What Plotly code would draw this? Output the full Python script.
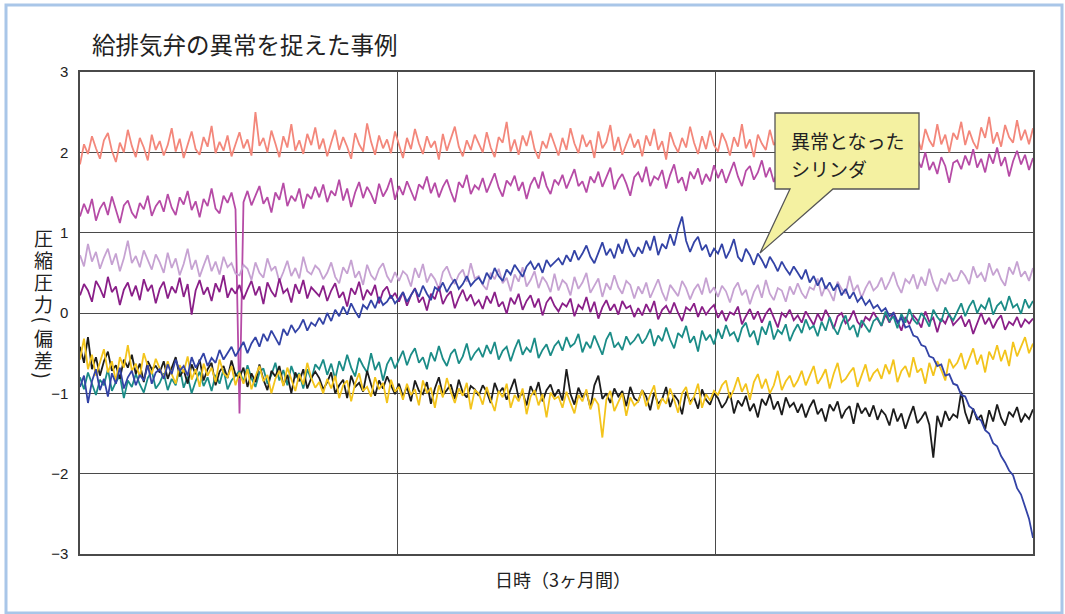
import plotly.graph_objects as go

# Compression pressure deviation per cylinder, sampled evenly over three months
salmon = [
    1.85, 2.10, 1.98, 2.20, 2.05, 1.92, 2.15, 2.24, 2.02, 1.88, 2.12, 2.00, 2.28, 2.08, 1.94, 2.18, 2.06, 1.90, 2.22, 2.03,
    2.14, 1.96, 2.09, 2.30, 2.01, 2.17, 1.93, 2.11, 2.26, 2.04, 1.97, 2.19, 2.07, 2.33, 1.99, 2.13, 2.02, 2.21, 1.95, 2.10,
    2.25, 2.05, 2.16, 1.96, 2.50, 2.08, 2.18, 2.00, 2.27, 2.11, 1.94, 2.20, 2.06, 2.35, 2.02, 2.15, 1.98, 2.23, 2.09, 2.31,
    2.04, 2.17, 1.95, 2.12, 2.28, 2.03, 2.19, 2.07, 1.92, 2.24, 2.10, 2.01, 2.36, 2.13, 1.97, 2.21, 2.05, 2.16, 1.99, 2.26,
    2.08, 1.93, 2.18, 2.04, 2.29, 2.11, 1.98, 2.20, 2.06, 2.14, 1.91, 2.23, 2.02, 2.17, 2.32, 2.07, 1.95, 2.15, 2.03, 2.22,
    2.10, 2.00, 2.25, 2.06, 1.94, 2.19, 2.12, 2.38, 2.01, 2.16, 1.97, 2.21, 2.08, 2.27, 2.04, 1.92, 2.14, 2.05, 2.24, 2.09,
    1.96, 2.18, 2.03, 2.30, 2.11, 1.99, 2.22, 2.07, 2.15, 1.93, 2.26, 2.05, 2.13, 2.34, 2.02, 2.19, 1.97, 2.10, 2.23, 2.06,
    2.16, 1.95, 2.21, 2.08, 2.29, 2.03, 2.14, 1.91, 2.25, 2.10, 2.00, 2.18, 2.06, 2.32, 2.12, 1.98, 2.20, 2.04, 2.27, 2.09,
    2.01, 2.24, 2.13, 1.96, 2.19, 2.07, 2.35, 2.05, 2.16, 1.94, 2.22, 2.11, 2.03, 2.28, 2.09, 2.17, 1.99, 2.26, 2.06, 2.14,
    2.31, 2.04, 2.18, 2.10, 1.97, 2.25, 2.08, 2.37, 2.02, 2.20, 2.12, 1.95, 2.23, 2.15, 2.06, 2.33, 2.09, 2.19, 2.01, 2.27,
    2.11, 2.30, 2.05, 2.21, 2.14, 1.99, 2.26, 2.08, 2.40, 2.12, 2.18, 2.03, 2.29, 2.15, 2.07, 2.35, 2.10, 2.22, 2.00, 2.24,
    2.16, 2.38, 2.09, 2.27, 2.13, 2.04, 2.31, 2.18, 2.44, 2.11, 2.25, 2.07, 2.34, 2.19, 2.12, 2.40, 2.15, 2.28, 2.10, 2.30,
]
magenta = [
    1.20, 1.36, 1.24, 1.42, 1.15, 1.30, 1.38, 1.22, 1.45, 1.27, 1.12, 1.34, 1.40, 1.25, 1.18, 1.37, 1.29, 1.46, 1.21, 1.33,
    1.40, 1.26, 1.48, 1.31, 1.22, 1.44, 1.35, 1.52, 1.28, 1.39, 1.19, 1.42, 1.33, 1.55, 1.30, 1.24, 1.46, 1.37, 1.50, 1.29,
    -1.25, 1.38, 1.52, 1.34, 1.47, 1.58, 1.36, 1.44, 1.25, 1.50, 1.41, 1.62, 1.33, 1.46, 1.39, 1.55, 1.30, 1.48, 1.42, 1.57,
    1.44, 1.60, 1.38, 1.52, 1.46, 1.66, 1.40, 1.55, 1.32, 1.50, 1.63, 1.43, 1.57, 1.48, 1.36, 1.61, 1.45, 1.54, 1.68, 1.41,
    1.58, 1.47, 1.64, 1.52, 1.40, 1.60, 1.55, 1.70, 1.49, 1.62, 1.44, 1.57, 1.66, 1.51, 1.38, 1.63, 1.56, 1.72, 1.48, 1.59,
    1.54, 1.68, 1.50, 1.62, 1.74, 1.56, 1.45, 1.65, 1.59, 1.71, 1.52, 1.63, 1.42, 1.60, 1.69, 1.55, 1.76, 1.58, 1.48, 1.66,
    1.60, 1.72, 1.55, 1.67, 1.79, 1.58, 1.64, 1.50, 1.70, 1.62, 1.76, 1.57, 1.68, 1.81, 1.54, 1.66, 1.73, 1.61, 1.46, 1.69,
    1.75, 1.63, 1.82, 1.58, 1.70, 1.66, 1.78, 1.55, 1.72, 1.85, 1.62, 1.69, 1.52, 1.76, 1.67, 1.80, 1.60, 1.73, 1.64, 1.84,
    1.68, 1.79, 1.62, 1.74, 1.88, 1.70, 1.58, 1.77, 1.83, 1.66, 1.75, 1.90, 1.69, 1.81, 1.63, 1.78, 1.72, 1.86, 1.60, 1.76,
    1.82, 1.70, 1.88, 1.74, 1.66, 1.85, 1.79, 1.93, 1.72, 1.80, 1.64, 1.87, 1.76, 1.96, 1.71, 1.83, 1.78, 1.90, 1.68, 1.84,
    1.77, 1.92, 1.80, 1.70, 1.89, 1.84, 1.98, 1.75, 1.86, 1.66, 1.91, 1.81, 2.00, 1.78, 1.88, 1.73, 1.94, 1.83, 1.62, 1.87,
    1.90, 1.79, 1.96, 1.84, 2.04, 1.81, 1.92, 1.75, 1.98, 1.86, 2.06, 1.83, 1.94, 1.70, 1.89, 2.02, 1.85, 1.97, 1.78, 1.93,
]
lavender = [
    0.72, 0.58, 0.86, 0.64, 0.76, 0.55, 0.69, 0.80, 0.60, 0.74, 0.52, 0.68, 0.90, 0.62, 0.71, 0.57, 0.78, 0.65, 0.54, 0.73,
    0.63, 0.50, 0.75, 0.56, 0.68, 0.47, 0.61, 0.80, 0.54, 0.66, 0.45, 0.59, 0.72, 0.52, 0.64, 0.48, 0.70, 0.57, 0.62, 0.49,
    0.47, 0.60, 0.55, 0.41, 0.63, 0.50, 0.44, 0.68, 0.53, 0.58, 0.39, 0.51, 0.65, 0.46, 0.56, 0.43, 0.70, 0.52, 0.48, 0.59,
    0.54, 0.42, 0.50, 0.63, 0.45, 0.37, 0.57, 0.49, 0.66, 0.44, 0.52, 0.35, 0.60, 0.47, 0.41, 0.55, 0.62, 0.46, 0.38, 0.51,
    0.40, 0.52, 0.47, 0.33, 0.56, 0.44, 0.61, 0.38, 0.49, 0.42, 0.30, 0.51, 0.58, 0.45, 0.36, 0.48, 0.54, 0.39, 0.62, 0.43,
    0.46, 0.35, 0.29, 0.50, 0.42, 0.55, 0.37, 0.44, 0.27, 0.48, 0.39, 0.57, 0.33, 0.41, 0.52, 0.31, 0.45, 0.38, 0.26, 0.49,
    0.28, 0.41, 0.36, 0.22, 0.45, 0.30, 0.38, 0.50, 0.25, 0.34, 0.43, 0.20, 0.37, 0.29, 0.47, 0.32, 0.24, 0.40, 0.35, 0.18,
    0.33, 0.24, 0.38, 0.19, 0.30, 0.42, 0.26, 0.15, 0.35, 0.28, 0.21, 0.40, 0.31, 0.17, 0.29, 0.36, 0.23, 0.44, 0.25, 0.32,
    0.20, 0.34, 0.27, 0.13, 0.30, 0.38, 0.22, 0.29, 0.11, 0.26, 0.35, 0.19, 0.41, 0.24, 0.16, 0.31, 0.28, 0.14, 0.33, 0.23,
    0.37, 0.25, 0.18, 0.32, 0.29, 0.43, 0.21, 0.34, 0.26, 0.15, 0.39, 0.30, 0.24, 0.46, 0.27, 0.35, 0.19, 0.31, 0.40, 0.28,
    0.33, 0.44, 0.29, 0.39, 0.51, 0.35, 0.25, 0.42, 0.37, 0.48, 0.30, 0.45, 0.34, 0.55, 0.38, 0.27, 0.43, 0.36, 0.50, 0.40,
    0.41, 0.53, 0.46, 0.36, 0.58, 0.44, 0.50, 0.39, 0.62, 0.47, 0.55, 0.42, 0.34, 0.57, 0.48, 0.64, 0.45, 0.52, 0.40, 0.56,
]
purple = [
    0.22, 0.36, 0.28, 0.14, 0.40, 0.31, 0.19, 0.45, 0.26, 0.33, 0.10, 0.29, 0.38, 0.21, 0.34, 0.16, 0.42, 0.27, 0.35, 0.12,
    0.30, 0.39, 0.18, 0.33, 0.25, 0.44, 0.20, 0.36, -0.02, 0.28, 0.41, 0.23, 0.32, 0.15, 0.37, 0.26, 0.47, 0.19, 0.31, 0.24,
    0.35, 0.17, 0.29, 0.40, 0.22, 0.33, 0.11, 0.38, 0.27, 0.20, 0.43, 0.25, 0.30, 0.13, 0.36, 0.24, 0.41, 0.18, 0.32, 0.26,
    0.21, 0.34, 0.15, 0.28, 0.37, 0.19, 0.26, 0.08, 0.31, 0.23, 0.39, 0.16, 0.29, 0.22, 0.35, 0.12, 0.27, 0.33, 0.18, 0.25,
    0.14, 0.26, 0.09, 0.22, 0.31, 0.13, 0.20, 0.03, 0.24, 0.17, 0.33, 0.11, 0.21, 0.27, 0.06, 0.19, 0.29, 0.15, 0.23, 0.10,
    0.16, 0.05, 0.21, 0.12, 0.26, 0.08, 0.14, -0.01, 0.19, 0.11, 0.24, 0.04, 0.15, 0.22, 0.07, 0.18, -0.03, 0.13, 0.20, 0.09,
    0.02, 0.12, 0.08, 0.18, -0.04, 0.10, 0.05, 0.20, 0.01, 0.14, -0.07, 0.07, 0.16, 0.03, 0.11, -0.02, 0.15, 0.06, 0.09, -0.05,
    0.06, -0.03, 0.11, 0.01, 0.15, -0.08, 0.04, 0.09, -0.01, 0.13, 0.00, -0.10, 0.07, 0.03, 0.12, -0.05, 0.08, -0.02, 0.05, 0.10,
    -0.06, 0.03, -0.10, 0.01, -0.02, 0.08, -0.14, -0.04, 0.05, -0.08, 0.02, -0.12, -0.01, 0.06, -0.07, -0.18, 0.00, -0.05, 0.04, -0.09,
    -0.03, -0.12, 0.02, -0.07, -0.15, -0.01, -0.10, 0.04, -0.06, -0.20, -0.04, 0.00, -0.13, -0.08, 0.03, -0.11, -0.17, -0.05, -0.09, 0.01,
    -0.08, -0.16, -0.02, -0.12, 0.01, -0.10, -0.22, -0.05, -0.14, -0.03, -0.09, -0.18, 0.02, -0.11, -0.06, -0.24, -0.07, -0.13, -0.01, -0.15,
    -0.10, -0.04, -0.17, -0.08, -0.26, -0.12, 0.00, -0.14, -0.06, -0.19, -0.09, -0.03, -0.21, -0.11, -0.15, -0.05, -0.18, -0.08, -0.13, -0.07,
]
teal = [
    -0.80, -0.95, -0.74, -0.88, -1.02, -0.83, -0.90, -0.70, -0.97, -0.86, -0.78, -1.06, -0.84, -0.92, -0.76, -0.89, -0.99, -0.81, -0.72, -0.94,
    -0.87, -0.75, -0.96, -0.82, -0.90, -0.68, -0.93, -0.79, -1.00, -0.85, -0.73, -0.91, -0.80, -0.97, -0.77, -0.88, -0.70, -0.95, -0.84, -0.78,
    -0.72, -0.86, -0.65, -0.81, -0.92, -0.74, -0.69, -0.88, -0.77, -0.62, -0.84, -0.71, -0.90, -0.66, -0.80, -0.75, -0.94, -0.70, -0.83, -0.64,
    -0.70, -0.58, -0.77, -0.63, -0.82, -0.60, -0.72, -0.52, -0.68, -0.79, -0.56, -0.66, -0.74, -0.50, -0.71, -0.61, -0.84, -0.64, -0.55, -0.69,
    -0.58, -0.47, -0.65, -0.52, -0.44, -0.62, -0.55, -0.70, -0.49, -0.60, -0.41, -0.57, -0.66, -0.51, -0.45, -0.63, -0.54, -0.38, -0.59, -0.50,
    -0.44, -0.55, -0.40, -0.51, -0.36, -0.58, -0.47, -0.42, -0.60, -0.45, -0.33, -0.52, -0.43, -0.49, -0.31, -0.56, -0.46, -0.39, -0.53, -0.41,
    -0.35, -0.47, -0.30, -0.42, -0.38, -0.26, -0.49, -0.36, -0.44, -0.28, -0.40, -0.52, -0.33, -0.24, -0.43, -0.37, -0.46, -0.29, -0.39, -0.34,
    -0.26, -0.38, -0.31, -0.20, -0.41, -0.28, -0.35, -0.18, -0.33, -0.44, -0.25, -0.30, -0.16, -0.37, -0.29, -0.48, -0.22, -0.34, -0.27, -0.39,
    -0.20, -0.32, -0.15, -0.28, -0.24, -0.36, -0.19, -0.12, -0.30, -0.22, -0.40, -0.17, -0.27, -0.10, -0.33, -0.21, -0.26, -0.14, -0.35, -0.23,
    -0.14, -0.25, -0.08, -0.20, -0.16, -0.29, -0.11, -0.22, -0.05, -0.18, -0.27, -0.13, -0.03, -0.21, -0.15, -0.30, -0.09, -0.17, -0.24, -0.10,
    -0.06, -0.16, 0.02, -0.10, -0.04, -0.19, -0.01, -0.12, 0.05, -0.08, -0.14, 0.00, -0.07, -0.17, 0.04, -0.05, -0.11, 0.07, -0.03, -0.09,
    0.02, 0.12, -0.04, 0.08, 0.16, 0.00, 0.10, 0.05, 0.19, -0.02, 0.09, 0.14, 0.03, 0.21, 0.07, 0.11, -0.01, 0.17, 0.06, 0.15,
]
black = [
    -0.42, -0.62, -0.30, -0.70, -0.55, -0.78, -0.60, -0.48, -0.72, -0.65, -0.82, -0.58, -0.68, -0.52, -0.76, -0.63, -0.86, -0.60, -0.70, -0.66,
    -0.74, -0.60, -0.82, -0.68, -0.55, -0.79, -0.71, -0.88, -0.64, -0.76, -0.58, -0.84, -0.70, -0.62, -0.90, -0.73, -0.66, -0.81, -0.59, -0.77,
    -0.80, -0.68, -0.92, -0.75, -0.86, -0.64, -0.83, -0.96, -0.72, -0.79, -0.66, -0.90, -0.77, -1.00, -0.74, -0.85, -0.70, -0.94, -0.81, -0.73,
    -0.81, -0.95, -0.86, -0.74, -1.00, -0.90, -0.83, -1.06, -0.78, -0.92, -0.87, -0.98, -0.72, -0.89, -1.03, -0.84, -0.94, -0.79, -0.91, -1.01,
    -0.88, -1.04, -0.92, -1.10, -0.84, -0.97, -1.01, -0.86, -1.13, -0.94, -0.80, -1.02, -0.96, -0.89, -1.07, -0.83, -0.99, -1.05, -0.91, -0.95,
    -1.03, -0.90, -0.98, -1.12, -0.87, -1.00, -0.93, -1.08, -0.95, -0.82, -1.06, -0.99, -1.15, -0.91, -1.02, -0.86, -1.10, -0.96, -0.89, -1.04,
    -0.95, -1.09, -0.70, -1.01, -1.14, -0.93, -1.05, -0.98, -1.18, -0.90, -0.78, -1.07, -1.00, -1.12, -0.94, -1.04, -0.97, -1.16, -0.92, -1.06,
    -1.10, -0.96, -1.04, -1.21, -0.99, -1.13, -1.07, -0.92, -1.17, -1.02, -1.09, -1.26, -0.98, -1.11, -1.05, -1.19, -0.95, -1.08, -1.14, -1.00,
    -1.06, -1.18, -1.11, -0.99, -1.25, -1.09, -1.16, -1.03, -1.22, -1.13, -1.30, -1.07, -1.15, -1.01, -1.20, -1.10, -1.27, -1.05, -1.17, -1.12,
    -1.24, -1.13, -1.30, -1.17, -1.08, -1.26, -1.19, -1.35, -1.14, -1.22, -1.10, -1.31, -1.21, -1.16, -1.38, -1.12, -1.25, -1.18, -1.29, -1.15,
    -1.33, -1.21, -1.27, -1.40, -1.19, -1.35, -1.25, -1.44, -1.29, -1.16, -1.37, -1.31, -1.23, -1.39, -1.80, -1.28, -1.42, -1.22, -1.34, -1.26,
    -1.30, -0.98, -1.24, -1.38, -1.19, -1.33, -1.27, -1.45, -1.21, -1.35, -1.14, -1.31, -1.40, -1.23, -1.29, -1.17, -1.36, -1.26, -1.32, -1.20,
]
yellow = [
    -0.58, -0.32, -0.70, -0.52, -0.78, -0.62, -0.45, -0.74, -0.60, -0.85, -0.55, -0.68, -0.40, -0.72, -0.63, -0.80, -0.50, -0.66, -0.76, -0.57,
    -0.69, -0.81, -0.60, -0.76, -0.88, -0.65, -0.74, -0.54, -0.83, -0.70, -0.92, -0.63, -0.78, -0.68, -0.86, -0.58, -0.75, -0.80, -0.66, -0.90,
    -0.74, -0.88, -0.70, -0.95, -0.79, -0.66, -0.85, -0.77, -1.00, -0.82, -0.72, -0.91, -0.68, -0.84, -0.97, -0.76, -0.89, -0.62, -0.81, -0.93,
    -0.86, -1.00, -0.82, -0.94, -0.78, -1.06, -0.90, -0.84, -1.10, -0.88, -0.75, -0.97, -0.92, -1.04, -0.80, -0.95, -0.87, -1.12, -0.83, -0.98,
    -0.92, -1.08, -0.88, -1.02, -0.95, -1.15, -0.84, -1.00, -0.93, -1.18, -0.90, -1.05, -0.81, -0.98, -1.12, -0.94, -1.03, -0.87, -1.20, -0.96,
    -1.00, -1.14, -0.92, -1.08, -1.22, -0.97, -1.05, -0.88, -1.18, -1.02, -1.10, -0.94, -1.26, -1.04, -0.96, -1.15, -1.01, -1.30, -0.99, -1.07,
    -1.04, -1.18, -0.98, -1.12, -1.25, -1.02, -1.10, -0.95, -1.20, -1.06, -1.14, -1.55, -1.08, -0.97, -1.22, -1.11, -1.00, -1.28, -1.05, -1.15,
    -1.10, -0.96, -1.16, -1.02, -0.90, -1.20, -1.06, -1.13, -0.94, -1.08, -1.24, -1.00, -0.92, -1.14, -1.04, -0.88, -1.18, -1.01, -1.09, -0.97,
    -1.02, -0.90, -0.84, -1.06, -0.95, -0.80, -0.98, -0.88, -1.08, -0.86, -0.76, -0.94, -0.82, -1.00, -0.90, -0.72, -0.96, -0.85, -0.78, -0.92,
    -0.84, -0.72, -0.90, -0.78, -0.66, -0.88, -0.80, -0.70, -0.94, -0.76, -0.62, -0.86, -0.82, -0.74, -0.68, -0.92, -0.79, -0.64, -0.85, -0.75,
    -0.70, -0.82, -0.64, -0.76, -0.58, -0.86, -0.72, -0.66, -0.80, -0.55, -0.74, -0.69, -0.88, -0.62, -0.78, -0.60, -0.71, -0.84, -0.57, -0.68,
    -0.62, -0.50, -0.70, -0.56, -0.44, -0.64, -0.52, -0.74, -0.48, -0.58, -0.40, -0.60, -0.46, -0.66, -0.36, -0.54, -0.42, -0.30, -0.50, -0.38,
]
# The cylinder that went abnormal
blue = [
    -0.92, -0.78, -1.12, -0.85, -0.70, -0.96, -0.82, -1.04, -0.75, -0.88, -0.68, -0.94, -0.80, -0.72, -0.90, -0.77, -0.84, -0.65, -0.88, -0.74,
    -0.70, -0.82, -0.64, -0.76, -0.58, -0.72, -0.66, -0.78, -0.55, -0.68, -0.60, -0.50, -0.66, -0.56, -0.62, -0.46, -0.58, -0.50, -0.42, -0.54,
    -0.44, -0.36, -0.50, -0.38, -0.30, -0.42, -0.26, -0.35, -0.22, -0.32, -0.40, -0.20, -0.28, -0.15, -0.24, -0.18, -0.08, -0.22, -0.12, -0.16,
    -0.06, -0.14, 0.00, -0.10, 0.04, -0.04, 0.08, -0.02, 0.12, 0.02, -0.06, 0.10, 0.05, 0.16, 0.06, 0.20, 0.10, 0.14, 0.22, 0.12,
    0.18, 0.26, 0.14, 0.22, 0.30, 0.20, 0.34, 0.24, 0.16, 0.32, 0.28, 0.38, 0.26, 0.35, 0.42, 0.30, 0.36, 0.46, 0.34, 0.40,
    0.44, 0.36, 0.50, 0.42, 0.56, 0.46, 0.40, 0.54, 0.48, 0.60, 0.52, 0.45, 0.58, 0.64, 0.54, 0.62, 0.50, 0.66, 0.58, 0.63,
    0.68, 0.60, 0.72, 0.64, 0.78, 0.66, 0.74, 0.84, 0.70, 0.62, 0.76, 0.88, 0.72, 0.80, 0.68, 0.86, 0.74, 0.92, 0.78, 0.70,
    0.82, 0.74, 0.90, 0.78, 0.96, 0.72, 0.86, 0.80, 0.98, 0.84, 1.05, 1.20, 0.90, 0.76, 0.88, 0.95, 0.78, 0.85, 0.70, 0.80,
    0.74, 0.86, 0.68, 0.78, 0.92, 0.70, 0.64, 0.80, 0.72, 0.60, 0.74, 0.66, 0.56, 0.70, 0.62, 0.52, 0.64, 0.55, 0.48, 0.58,
    0.50, 0.42, 0.54, 0.38, 0.46, 0.34, 0.44, 0.30, 0.38, 0.28, 0.36, 0.22, 0.30, 0.18, 0.26, 0.14, 0.20, 0.10, 0.16, 0.06,
    0.10, 0.02, 0.06, -0.04, 0.00, -0.12, -0.06, -0.18, -0.16, -0.28, -0.30, -0.40, -0.42, -0.54, -0.56, -0.66, -0.64, -0.78, -0.76, -0.88,
    -0.90, -1.02, -1.04, -1.16, -1.20, -1.30, -1.34, -1.46, -1.50, -1.62, -1.66, -1.78, -1.86, -1.96, -2.02, -2.18, -2.26, -2.42, -2.56, -2.80,
]

series = [
    (salmon, "#f3877b"),
    (magenta, "#b64ba6"),
    (lavender, "#c6a2d2"),
    (purple, "#8a1f88"),
    (teal, "#1b8c87"),
    (black, "#1c1c1c"),
    (yellow, "#f3c41c"),
    (blue, "#3343a6"),
]

y_ticks = [-3, -2, -1, 0, 1, 2, 3]
title_text = "給排気弁の異常を捉えた事例"
x_title = "日時（3ヶ月間）"
y_title = "圧縮圧力(偏差)"
callout_lines = ["異常となった", "シリンダ"]

W, H = 1065, 614
L, R, T, B = 80, 32, 72, 60
plot_w, plot_h = W - L - R, H - T - B
n = len(salmon)

JP = "Noto Sans CJK JP"
TXT = "#222222"
GRID = "#4a4a4a"


def px(xp):
    return (xp - L) / plot_w


def py(yp):
    return (H - B - yp) / plot_h


def dx(xp):
    return (xp - L) / plot_w * (n - 1)


def dy(yp):
    return 3 - (yp - T) / plot_h * 6


fig = go.Figure()
for vals, color in series:
    fig.add_trace(go.Scatter(
        x=list(range(len(vals))), y=vals, mode="lines",
        line=dict(color=color, width=1.8), hoverinfo="skip",
    ))

# speech-bubble callout pointing at the abnormal cylinder
bx0, bx1, by0, by1 = dx(775), dx(919), dy(113), dy(189)
b1, b2, tipx, tipy = dx(790), dx(833), dx(760), dy(253)
bubble = (f"M {bx0},{by0} L {bx1},{by0} L {bx1},{by1} L {b2},{by1} "
          f"L {tipx},{tipy} L {b1},{by1} L {bx0},{by1} Z")

shapes = [
    dict(type="path", path=bubble, xref="x", yref="y", layer="above",
         fillcolor="#f4f1a1", line=dict(color="#555555", width=1.3)),
    dict(type="rect", xref="paper", yref="paper",
         x0=px(6), x1=px(1062), y0=py(613), y1=py(5),
         line=dict(color="#a9c6e8", width=3), layer="below"),
]

annotations = [
    dict(text=title_text, xref="paper", yref="paper", x=px(90), y=py(44),
         xanchor="left", yanchor="middle", showarrow=False,
         font=dict(family=JP, size=23.5, color=TXT)),
    dict(text=x_title, xref="paper", yref="paper", x=px(563), y=py(579),
         xanchor="center", yanchor="middle", showarrow=False,
         font=dict(family=JP, size=18, color=TXT)),
]
for i, line in enumerate(callout_lines):
    annotations.append(dict(
        text=line, xref="paper", yref="paper", x=px(789), y=py(140 + 28 * i),
        xanchor="left", yanchor="middle", showarrow=False,
        font=dict(family=JP, size=19, color=TXT)))

# vertical axis title, one upright character per row; brackets turned sideways
ypos = 237.5
for ch in y_title:
    bracket = ch in "()"
    if bracket:
        ypos -= 6
    annotations.append(dict(
        text=ch, xref="paper", yref="paper", x=px(43), y=py(ypos),
        xanchor="center", yanchor="middle", showarrow=False,
        textangle=90 if bracket else 0,
        font=dict(family=JP, size=19, color=TXT)))
    ypos += 22 if not bracket else 24
    if bracket:
        ypos -= 6

fig.update_layout(
    width=W, height=H,
    margin=dict(l=L, r=R, t=T, b=B, pad=0),
    paper_bgcolor="white", plot_bgcolor="white",
    showlegend=False,
    shapes=shapes, annotations=annotations,
    xaxis=dict(
        range=[0, n - 1], tickmode="array",
        tickvals=[(n - 1) / 3, 2 * (n - 1) / 3],
        showticklabels=False, ticks="",
        showgrid=True, gridcolor=GRID, gridwidth=1.3,
        showline=True, mirror=True, linecolor=GRID, linewidth=1.5,
        zeroline=False,
    ),
    yaxis=dict(
        range=[-3, 3], tickmode="array", tickvals=y_ticks,
        ticks="", ticklabelstandoff=7,
        tickfont=dict(family="Liberation Sans", size=15, color=TXT),
        showgrid=True, gridcolor=GRID, gridwidth=1.3,
        showline=True, mirror=True, linecolor=GRID, linewidth=1.5,
        zeroline=False,
    ),
)

fig.write_html("out.html")
